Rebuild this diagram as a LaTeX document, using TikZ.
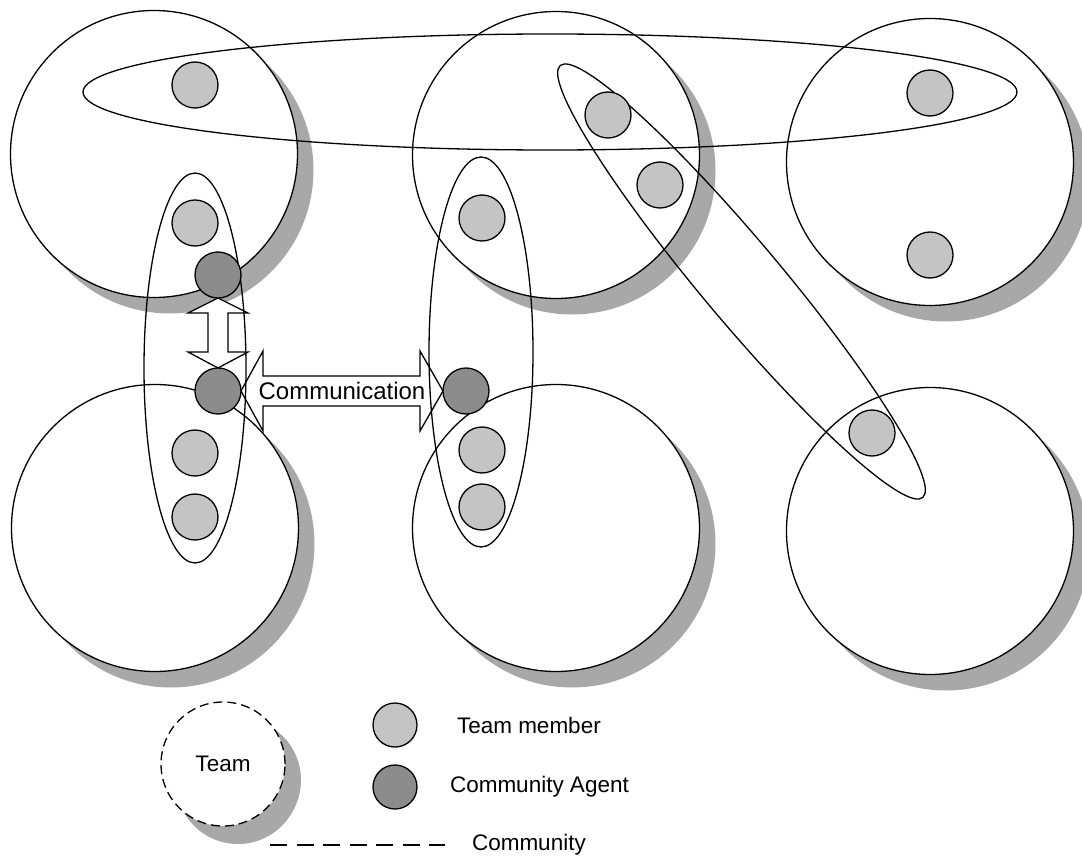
\documentclass[tikz,border=0pt]{standalone}
\usepackage{fontspec}
\setmainfont{Liberation Sans}
\usetikzlibrary{shapes.geometric,shadows,calc}

\definecolor{shadowgray}{gray}{0.66}
\definecolor{memberfill}{gray}{0.77}
\definecolor{agentfill}{gray}{0.55}

\pgfdeclarelayer{teamlayer}
\pgfdeclarelayer{arrowlayer}
\pgfsetlayers{teamlayer,arrowlayer,main}

\begin{document}
\begin{tikzpicture}[x=1pt,y=-1pt,
  every node/.style={inner sep=0pt, outer sep=0pt},
  team/.style={circle, draw, line width=1.3pt, fill=white, minimum size=287pt,
    drop shadow={shadow xshift=16pt, shadow yshift=-16pt, fill=shadowgray, opacity=1}},
  member/.style={circle, draw, line width=1.3pt, fill=memberfill, minimum size=46pt},
  agent/.style={member, fill=agentfill},
  community/.style={ellipse, draw, line width=1.3pt},
  blockarrow/.style={draw, line width=1.3pt, fill=white, line join=miter},
  legendtext/.style={font=\fontsize{22.5}{26}\selectfont, anchor=west},
]
\useasboundingbox (0,0) rectangle (1082,856);

% teams with their shadows
\begin{pgfonlayer}{teamlayer}
  \node[team] (tTL) at (154,154) {};
  \node[team] (tTM) at (556,155) {};
  \node[team] (tTR) at (930,162) {};
  \node[team] (tBL) at (155,528) {};
  \node[team] (tBM) at (556,528) {};
  \node[team] (tBR) at (930,531) {};
  % legend team
  \node[team, dashed, dash pattern=on 9pt off 5pt, minimum size=124pt,
        drop shadow={shadow xshift=15pt, shadow yshift=-18pt, fill=shadowgray, opacity=1}]
        (lteam) at (223,764) {\fontsize{22.5}{26}\selectfont Team};
\end{pgfonlayer}

% communities
\node[community, minimum width=934pt, minimum height=116pt] (cTop) at (550,92) {};
\node[community, minimum width=102pt, minimum height=390pt] (cLeft) at (195,368) {};
\node[community, minimum width=104pt, minimum height=390pt] (cMid) at (481,352) {};
\node[community, minimum width=564pt, minimum height=80pt, rotate=-50] (cDiag) at (741.5,281.5) {};

% team members and community agents
\node[member] (m1)  at (195,85)  {};
\node[member] (m2)  at (195,223) {};
\node[agent]  (a1)  at (218,275) {};
\node[agent]  (a2)  at (218,391) {};
\node[member] (m3)  at (195,453) {};
\node[member] (m4)  at (195,517) {};
\node[member] (m5)  at (608,115) {};
\node[member] (m6)  at (660,185) {};
\node[member] (m7)  at (482,218) {};
\node[agent]  (a3)  at (466,391) {};
\node[member] (m8)  at (482,450) {};
\node[member] (m9)  at (482,507) {};
\node[member] (m10) at (930,93)  {};
\node[member] (m11) at (930,255) {};
\node[member] (m12) at (872,433) {};

% communication arrows between agents
\begin{pgfonlayer}{arrowlayer}
  \draw[blockarrow] (a1.south) -- ++(30,15) -- ++(-20,0)
    -- ($(a2.north)+(10,-16)$) -- ++(20,0) -- (a2.north) -- ++(-30,-16)
    -- ++(20,0) -- ($(a1.south)+(-10,15)$) -- ++(-20,0) -- cycle;
  \draw[blockarrow] (a2.east) -- ++(22,-40) -- ++(0,25)
    -- ($(a3.west)+(-23,-15)$) -- ++(0,-25) -- (a3.west) -- ++(-23,40)
    -- ++(0,-25) -- ($(a2.east)+(22,15)$) -- ++(0,25) -- cycle;
  \node[font=\fontsize{24}{28}\selectfont] (comm) at ($(a2.east)!0.5!(a3.west)$) {Communication};
\end{pgfonlayer}

% legend
\node[member, minimum size=44pt] (lmember) at (395,725) {};
\node[legendtext] (lmembertext) at (457,725) {Team member};
\node[agent, minimum size=44pt] (lagent) at (395,787) {};
\node[legendtext] (lagenttext) at (450,787) {Community Agent};
\coordinate (ldashA) at (270,845);
\coordinate (ldashB) at (445,845);
\draw[line width=2.6pt, dash pattern=on 17pt off 9.5pt] (ldashA) -- (ldashB);
\node[legendtext] (lcomm) at (472,845) {Community};
\end{tikzpicture}
\end{document}
